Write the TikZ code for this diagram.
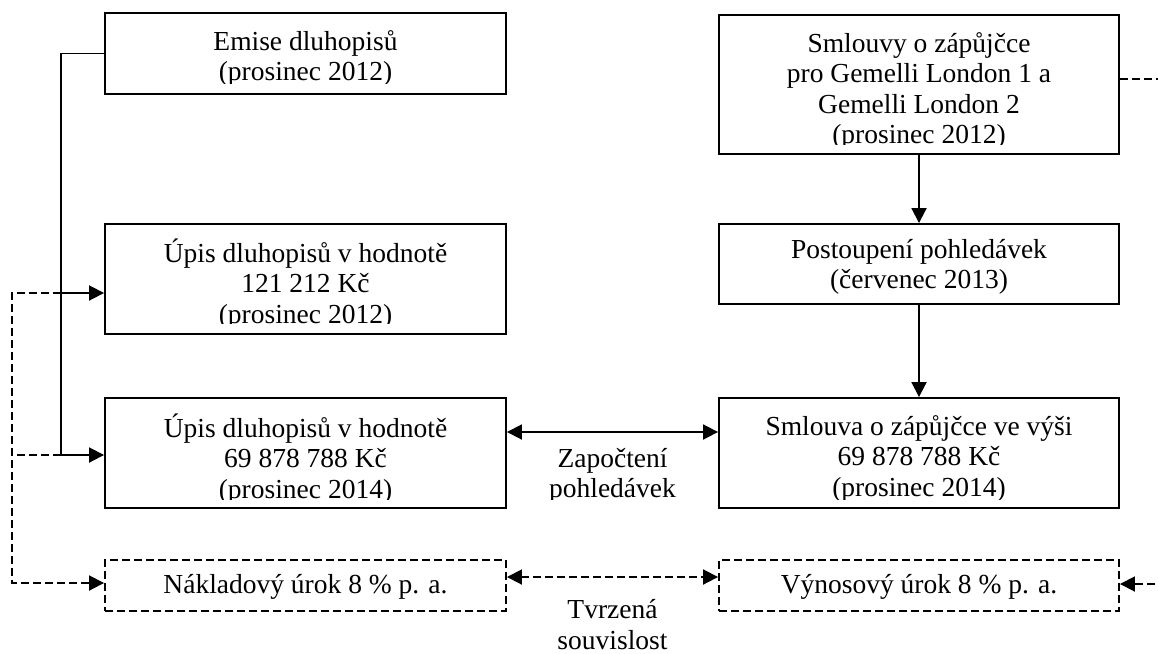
\documentclass[tikz,border=0pt]{standalone}
\usepackage{fontspec}
\setmainfont{Liberation Serif}
\usetikzlibrary{arrows.meta,calc}
\begin{document}
\begin{tikzpicture}[x=1pt,y=-1pt,
  box/.style={draw, line width=1.9pt, inner sep=0pt, minimum width=401pt},
  dbox/.style={box, dash pattern=on 8pt off 4pt},
  txt/.style={inner sep=0pt, anchor=north, align=center, font=\fontsize{27.5}{30.5}\selectfont},
  conn/.style={line width=1.9pt},
  dconn/.style={conn, dash pattern=on 8pt off 4pt},
  tip/.tip={Triangle[length=15pt,width=15pt]},
  arr/.style={conn, -tip},
  darr/.style={dconn, -tip},
  dblarr/.style={conn, tip-tip},
  ddblarr/.style={dconn, tip-tip}
]
\useasboundingbox (0,0) rectangle (1158,653);
\begin{scope}
\clip (0,0) rectangle (1158,653);
% boxes
\node[box, minimum height=81pt] (emise) at (305.5,53.5) {};
\node[box, minimum height=110pt] (upis1) at (305.5,279) {};
\node[box, minimum height=110pt] (upis2) at (305.5,453) {};
\node[dbox, minimum height=51pt] (naklad) at (305.5,585.5) {};
\node[box, minimum width=400pt, minimum height=139pt] (smlouvy) at (919,84.5) {};
\node[box, minimum width=400pt, minimum height=80pt] (postoup) at (919,264) {};
\node[box, minimum width=400pt, minimum height=110pt] (smlouva) at (919,453) {};
\node[dbox, minimum width=400pt, minimum height=51pt] (vynos) at (919,585.5) {};

% texts (clipped as in the original)
\begin{scope}
\clip (emise.north west) rectangle ($(emise.south east)+(0,-11)$);
\node[txt] (temise) at (305.5,28.65) {\strut Emise dluhopisů\\\strut(prosinec 2012)};
\end{scope}
\begin{scope}
\clip (upis1.north west) rectangle ($(upis1.south east)+(0,-11)$);
\node[txt] (tupis1) at (305.5,238.65) {\strut Úpis dluhopisů v hodnotě\\\strut 121 212 Kč\\\strut(prosinec 2012)};
\end{scope}
\begin{scope}
\clip (upis2.north west) rectangle ($(upis2.south east)+(0,-9)$);
\node[txt] (tupis2) at (305.5,413.65) {\strut Úpis dluhopisů v hodnotě\\\strut 69 878 788 Kč\\\strut(prosinec 2014)};
\end{scope}
\node[txt] (tnaklad) at (305.5,571.65) {\strut Nákladový úrok 8 \% p. a.};
\begin{scope}
\clip (smlouvy.north west) rectangle ($(smlouvy.south east)+(0,-10)$);
\node[txt] (tsmlouvy) at (919,30.65) {\strut Smlouvy o zápůjčce\\\strut pro Gemelli London 1 a\\\strut Gemelli London 2\\\strut(prosinec 2012)};
\end{scope}
\node[txt] (tpostoup) at (919,236.65) {\strut Postoupení pohledávek\\\strut(červenec 2013)};
\begin{scope}
\clip (smlouva.north west) rectangle ($(smlouva.south east)+(0,-9)$);
\node[txt] (tsmlouva) at (919,413.65) {\strut Smlouva o zápůjčce ve výši\\\strut 69 878 788 Kč\\\strut(prosinec 2014)};
\end{scope}
\node[txt] (tvynos) at (919,571.65) {\strut Výnosový úrok 8 \% p. a.};
\begin{scope}
\clip (506,440) rectangle (719,499);
\node[txt] (lzap) at (612.5,445.65) {\strut Započtení\\\strut pohledávek};
\end{scope}
\node[txt] (ltvr) at (612.5,597) {\strut Tvrzená\\\strut souvislost};

% left connectors
\coordinate (j1) at (61,293);
\coordinate (j2) at (61,455);
\coordinate (d1) at (12,293);
\draw[conn] (emise.west) -| (j2);
\draw[arr] (j2) -- (j2 -| upis2.west);
\draw[arr] (j1) -- (j1 -| upis1.west);
\draw[darr] (j1) -- (d1) |- ($(naklad.west)+(0,-2.5)$);
\draw[dconn] (j2) -- (j2 -| d1);

% middle connectors
\draw[dblarr] ($(upis2.east)+(0,-21)$) -- ($(smlouva.west)+(0,-21)$);
\draw[ddblarr] ($(naklad.east)+(0,-8.5)$) -- ($(vynos.west)+(0,-8.5)$);

% right connectors
\draw[arr] (smlouvy.south) -- (postoup.north);
\draw[arr] (postoup.south) -- (smlouva.north);
\coordinate (r1) at (1185,79);
\draw[darr] ($(smlouvy.east)+(0,-5.5)$) -- (r1) |- ($(vynos.east)+(0,-1.5)$);
\end{scope}
\end{tikzpicture}
\end{document}
